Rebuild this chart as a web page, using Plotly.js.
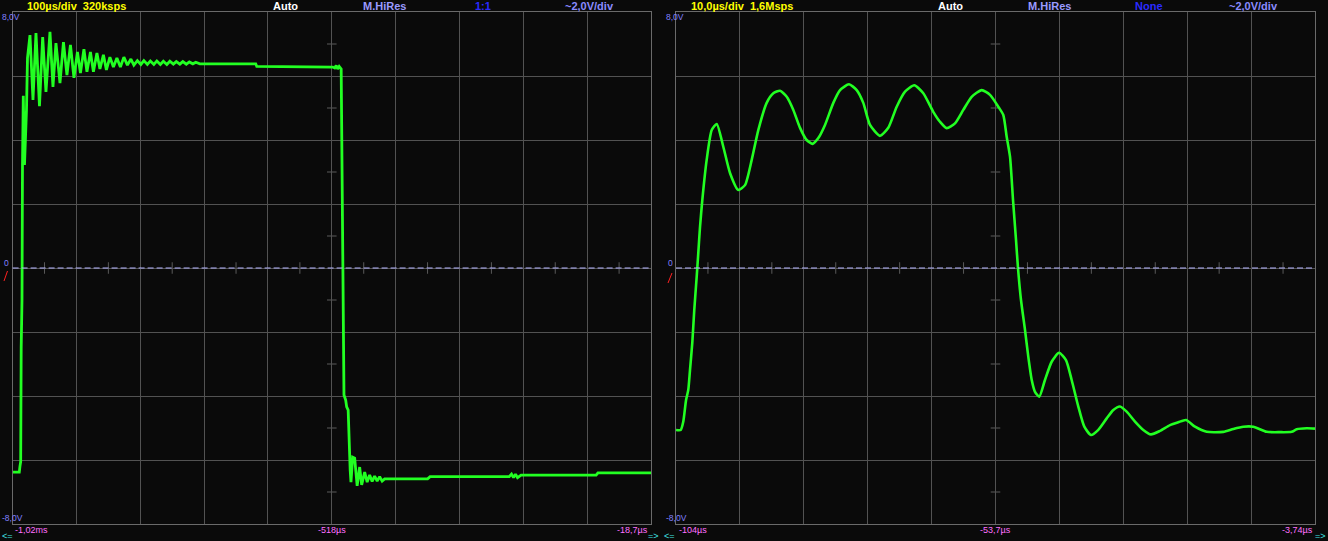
<!DOCTYPE html>
<html>
<head>
<meta charset="utf-8">
<script src="https://cdn.plot.ly/plotly-3.0.1.min.js"></script>
<style>html,body{margin:0;padding:0;background:#0a0a0a;}#chart{width:1328px;height:541px;}</style>
</head>
<body>
<div id="chart"></div>
<script>
// ---- data (time in µs, voltage in V) ----
const leftTime = [-1018.70, -1008.21, -1007.12, -1006.02, -1005.24, -1003.99, -1003.21, -1001.96, -1000.08, -998.51,
  -996.95, -995.38, -991.47, -986.78, -982.08, -976.60, -971.60, -966.43, -960.17, -955.48,
  -950.78, -944.50, -939.05, -933.57, -928.10, -922.62, -917.14, -912.44, -906.97, -902.27,
  -896.79, -892.10, -886.62, -881.93, -876.45, -871.76, -866.28, -860.80, -855.33, -849.85,
  -844.37, -838.89, -833.42, -828.72, -823.24, -817.77, -813.07, -807.60, -802.90, -797.42,
  -792.73, -787.25, -782.56, -777.08, -772.38, -766.91, -762.21, -756.74, -752.04, -746.56,
  -741.87, -736.39, -731.70, -725.44, -637.81, -636.24, -517.31, -514.18, -511.83, -509.48,
  -507.13, -504.00, -502.75, -501.19, -499.62, -496.96, -495.40, -493.05, -491.49, -489.93,
  -488.67, -487.10, -486.01, -482.88, -480.53, -478.97, -475.05, -471.92, -467.23, -463.32,
  -459.41, -455.50, -451.58, -447.67, -443.76, -439.85, -435.94, -368.65, -364.73, -240.79,
  -237.19, -234.06, -230.93, -227.80, -222.17, -104.64, -101.83, -18.70];
const leftVolt = [-6.38, -6.38, -6.19, -6.05, -2.50, -1.00, 3.22, 5.38, 3.22, 4.00,
  4.94, 6.56, 7.28, 5.25, 7.34, 5.06, 7.22, 5.50, 7.38, 5.66,
  7.03, 5.78, 7.06, 6.03, 6.97, 5.94, 6.75, 6.09, 6.84, 6.13,
  6.75, 6.13, 6.72, 6.22, 6.66, 6.19, 6.59, 6.28, 6.56, 6.28,
  6.59, 6.34, 6.53, 6.34, 6.48, 6.36, 6.48, 6.36, 6.47, 6.36,
  6.47, 6.36, 6.46, 6.36, 6.46, 6.37, 6.45, 6.37, 6.45, 6.37,
  6.44, 6.38, 6.43, 6.38, 6.38, 6.30, 6.28, 6.25, 6.33, 6.22,
  6.30, 6.22, 3.69, -1.00, -3.97, -4.13, -4.34, -4.44, -5.59, -6.31,
  -6.69, -6.31, -5.91, -5.94, -6.69, -6.81, -6.22, -6.78, -6.38, -6.69,
  -6.47, -6.67, -6.50, -6.66, -6.52, -6.66, -6.59, -6.59, -6.52, -6.52,
  -6.44, -6.55, -6.44, -6.55, -6.47, -6.47, -6.40, -6.40];

const rightTime = [-103.74, -103.00, -102.60, -102.17, -101.82, -101.55, -101.19, -100.88, -100.50, -100.25,
  -99.98, -99.62, -98.94, -98.15, -97.37, -96.34, -95.29, -93.99, -92.94, -91.89,
  -90.86, -89.55, -88.51, -87.47, -86.41, -85.38, -84.33, -83.29, -82.35, -81.47,
  -80.42, -79.12, -78.07, -76.67, -75.46, -74.43, -73.38, -71.82, -70.52, -69.20,
  -67.90, -66.45, -65.04, -63.48, -62.43, -61.38, -60.08, -58.78, -57.47, -55.90,
  -54.60, -53.30, -52.52, -51.99, -51.47, -51.00, -50.53, -50.22, -49.75, -49.12,
  -48.61, -48.07, -47.56, -46.89, -46.00, -44.95, -43.80, -42.71, -41.82, -40.78,
  -39.84, -38.79, -37.65, -36.34, -35.30, -34.26, -33.21, -31.91, -30.61, -29.41,
  -28.00, -26.43, -25.13, -23.93, -22.52, -20.69, -18.09, -16.52, -14.96, -13.40,
  -11.30, -9.22, -7.39, -6.61, -5.04, -3.74];
const rightVolt = [-5.06, -5.06, -4.80, -4.13, -3.81, -3.19, -2.34, -1.31, -0.27, 0.47,
  1.29, 2.13, 3.38, 4.31, 4.50, 3.79, 2.97, 2.44, 2.59, 3.38,
  4.31, 5.16, 5.46, 5.54, 5.35, 4.94, 4.38, 4.00, 3.88, 4.06,
  4.47, 5.16, 5.56, 5.74, 5.56, 5.16, 4.47, 4.13, 4.38, 5.04,
  5.51, 5.71, 5.46, 4.88, 4.57, 4.37, 4.52, 4.94, 5.35, 5.56,
  5.41, 5.04, 4.78, 4.10, 3.48, 2.13, 0.88, 0.00, -1.00, -1.94,
  -2.77, -3.50, -3.87, -4.02, -3.50, -2.93, -2.65, -2.88, -3.50, -4.33,
  -4.96, -5.22, -5.06, -4.70, -4.44, -4.33, -4.49, -4.80, -5.06, -5.20,
  -5.09, -4.91, -4.82, -4.75, -4.96, -5.12, -5.12, -5.03, -4.96, -4.96,
  -5.12, -5.13, -5.12, -5.04, -5.01, -5.02];

const leftRange = [-1018.7, -18.7];     // 100 µs/div
const rightRange = [-103.74, -3.74];    // 10 µs/div
const voltRange = [-8, 8];              // 2 V/div

const leftTickLabels = ['-1,02ms', '-518µs', '-18,7µs'];
const rightTickLabels = ['-104µs', '-53,7µs', '-3,74µs'];
const leftHeader = ['100µs/div  320ksps', 'Auto', 'M.HiRes', '1:1', '~2,0V/div'];
const rightHeader = ['10,0µs/div  1,6Msps', 'Auto', 'M.HiRes', 'None', '~2,0V/div'];
const voltLabels = ['8,0V', '0', '-8,0V'];

// ---- layout helpers ----
const W = 1328, H = 541;
const px = x => x / W;
const py = y => 1 - y / H;
const BG = '#0a0a0a', GRID = '#525252', BORDER = '#6a6a6a', TRACE = '#22ff22';

function axisX(domain, range, dtick, anchor) {
  return {domain: domain, range: range, tick0: range[0], dtick: dtick, anchor: anchor,
    showgrid: true, gridcolor: GRID, gridwidth: 1, zeroline: false,
    showline: true, linecolor: BORDER, linewidth: 1, mirror: true,
    showticklabels: false, ticks: '', fixedrange: true};
}
function axisY(anchor) {
  return {domain: [py(524), py(12)], range: voltRange, tick0: -8, dtick: 2, anchor: anchor,
    showgrid: true, gridcolor: GRID, gridwidth: 1, zeroline: false,
    showline: true, linecolor: BORDER, linewidth: 1, mirror: true,
    showticklabels: false, ticks: '', fixedrange: true};
}

const traces = [
  {x: leftTime, y: leftVolt, xaxis: 'x', yaxis: 'y', mode: 'lines', type: 'scatter',
   line: {color: TRACE, width: 2.8, shape: 'linear'}, hoverinfo: 'skip'},
  {x: rightTime, y: rightVolt, xaxis: 'x2', yaxis: 'y2', mode: 'lines', type: 'scatter',
   line: {color: TRACE, width: 2.6, shape: 'spline', smoothing: 0.6}, hoverinfo: 'skip'}
];

const shapes = [];
const panels = [
  {xr: 'x', yr: 'y', range: leftRange, div: 100},
  {xr: 'x2', yr: 'y2', range: rightRange, div: 10}
];
panels.forEach(p => {
  // dashed zero (ground) line
  shapes.push({type: 'line', xref: p.xr + ' domain', yref: p.yr, x0: 0, x1: 1, y0: 0, y1: 0,
    line: {color: '#b4b4ff', width: 1.2, dash: '6px,3px'}, layer: 'above'});
  const centre = (p.range[0] + p.range[1]) / 2;
  const halfLen = p.div * 0.075;
  // small ticks on ground line at half divisions
  for (let k = 1; k < 20; k += 2) {
    const xv = p.range[0] + k * p.div / 2;
    shapes.push({type: 'line', xref: p.xr, yref: p.yr, x0: xv, x1: xv, y0: -0.18, y1: 0.18,
      line: {color: '#5a5a5a', width: 1}, layer: 'below'});
  }
  // small ticks on centre vertical line at half divisions
  for (let k = 1; k < 16; k += 2) {
    const yv = -8 + k;
    shapes.push({type: 'line', xref: p.xr, yref: p.yr, x0: centre - halfLen, x1: centre + halfLen, y0: yv, y1: yv,
      line: {color: '#5a5a5a', width: 1}, layer: 'below'});
  }
});
// red trigger markers
shapes.push({type: 'line', xref: 'paper', yref: 'paper', x0: px(4), y0: py(281), x1: px(7.5), y1: py(271),
  line: {color: '#ff2020', width: 1}});
shapes.push({type: 'line', xref: 'paper', yref: 'paper', x0: px(668), y0: py(283), x1: px(672), y1: py(273),
  line: {color: '#ff2020', width: 1}});

const annotations = [];
function txt(text, x, y, color, size, anchor, bold, fam) {
  annotations.push({text: bold ? '<b>' + text + '</b>' : text, xref: 'paper', yref: 'paper',
    x: px(x), y: py(y), xanchor: anchor, yanchor: 'middle', showarrow: false,
    font: {color: color, size: size, family: fam || 'Liberation Sans, Arial, sans-serif'}});
}
const HF = 'Liberation Sans, Arial, sans-serif';
const headerColors = ['#ffff00', '#ffffff', '#9a9aff', '#2a2aff', '#8a8aff'];
const leftHeaderX = [25, 285.5, 384.5, 483.5, 589.5];
const rightHeaderX = [689, 950, 1049.5, 1149, 1253];
const headerAnchor = ['left', 'center', 'center', 'center', 'center'];
leftHeader.forEach((t, i) => txt(t, leftHeaderX[i], 6, headerColors[i], 11, headerAnchor[i], true, HF));
rightHeader.forEach((t, i) => txt(t, rightHeaderX[i], 6, headerColors[i], 11, headerAnchor[i], true, HF));

const SF = 'Liberation Sans Narrow, Liberation Sans, Arial, sans-serif';
// volt labels
[0, 664].forEach(x0 => {
  txt(voltLabels[0], x0, 17, '#8080ff', 8.5, 'left', false, SF);
  txt(voltLabels[1], x0 + 2, 263, '#8080ff', 8.5, 'left', false, SF);
  txt(voltLabels[2], x0, 518, '#8080ff', 8.5, 'left', false, SF);
});
// time labels
const MAG = '#ff70ff';
txt(leftTickLabels[0], 13, 530, MAG, 9, 'left', false, SF);
txt(leftTickLabels[1], 332, 530, MAG, 9, 'center', false, SF);
txt(leftTickLabels[2], 650, 530, MAG, 9, 'right', false, SF);
txt(rightTickLabels[0], 677, 530, MAG, 9, 'left', false, SF);
txt(rightTickLabels[1], 995.5, 530, MAG, 9, 'center', false, SF);
txt(rightTickLabels[2], 1315, 530, MAG, 9, 'right', false, SF);
// scroll arrows
const CY = '#40e8e8';
txt('<=', 0, 536, CY, 9, 'left', false, SF);
txt('=>', 661, 536, CY, 9, 'right', false, SF);
txt('<=', 662, 536, CY, 9, 'left', false, SF);
txt('=>', 1328, 536, CY, 9, 'right', false, SF);

const layout = {
  width: W, height: H, margin: {l: 0, r: 0, t: 0, b: 0, pad: 0},
  paper_bgcolor: BG, plot_bgcolor: BG, showlegend: false,
  xaxis: axisX([px(12.6), px(651)], leftRange, 100, 'y'),
  yaxis: axisY('x'),
  xaxis2: axisX([px(676), px(1315)], rightRange, 10, 'y2'),
  yaxis2: axisY('x2'),
  shapes: shapes, annotations: annotations
};

Plotly.newPlot('chart', traces, layout, {staticPlot: true, displayModeBar: false});
</script>
</body>
</html>
